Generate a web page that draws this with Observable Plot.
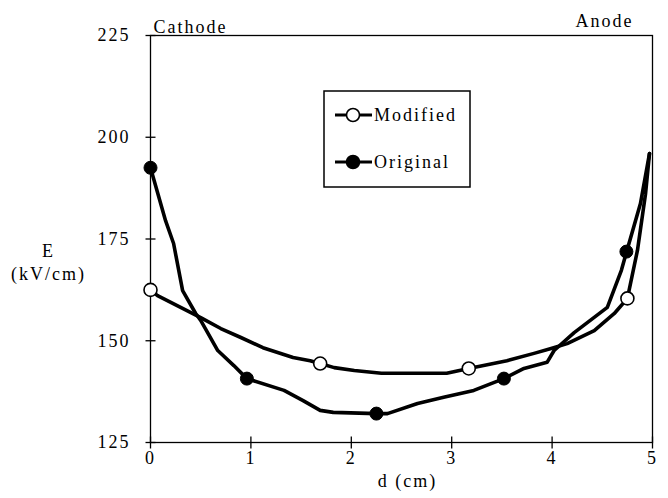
<!DOCTYPE html>
<html><head><meta charset="utf-8">
<script src="https://cdn.jsdelivr.net/npm/d3@7"></script>
<script src="https://cdn.jsdelivr.net/npm/@observablehq/plot@0.6"></script>
<style>
body{margin:0;background:#fff;}
#wrap{position:relative;width:668px;height:498px;font-family:"Liberation Serif","DejaVu Serif",serif;}
#wrap svg text{font-family:"Liberation Serif","DejaVu Serif",serif !important;}
#legend{position:absolute;left:323px;top:90px;}
</style></head><body><div id="wrap"></div>
<script>
// Data
const modifiedD = [0, 0.07, 0.3, 0.5, 0.7, 0.9, 1.12, 1.42, 1.59, 1.69, 1.83, 2.03, 2.3, 2.95, 3.17, 3.55, 3.82, 3.99, 4.15, 4.42, 4.62, 4.75, 4.85, 4.93, 4.97];
const modifiedE = [162.5, 161.1, 158.2, 155.7, 153, 150.8, 148.3, 145.9, 145.1, 144.4, 143.4, 142.7, 142, 142, 143.2, 145.1, 146.9, 148.1, 149.3, 152.5, 156.7, 160.4, 172.2, 186, 196];
const originalD = [0, 0.15, 0.23, 0.32, 0.45, 0.5, 0.67, 0.83, 0.96, 1.33, 1.52, 1.69, 1.82, 2.25, 2.36, 2.66, 2.92, 3.22, 3.52, 3.72, 3.95, 4.02, 4.22, 4.55, 4.69, 4.74, 4.88, 4.97];
const originalE = [192.5, 179.5, 173.9, 162.3, 156.7, 155, 147.6, 143.9, 140.7, 137.8, 135.3, 132.9, 132.4, 132.1, 132.1, 134.6, 136.1, 137.8, 140.7, 143.2, 144.7, 147.6, 152, 158.2, 167.3, 171.7, 183.7, 196];
const modifiedMarkD = [0, 1.69, 3.17, 4.75];
const modifiedMarkE = [162.5, 144.4, 143.2, 160.4];
const originalMarkD = [0, 0.96, 2.25, 3.52, 4.74];
const originalMarkE = [192.5, 140.7, 132.1, 140.7, 171.9];
const xTicks = [0, 1, 2, 3, 4, 5];
const yTicks = [125, 150, 175, 200, 225];
const seriesNames = ["Modified", "Original"];

const modified = modifiedD.map((d, i) => ({d, E: modifiedE[i]}));
const original = originalD.map((d, i) => ({d, E: originalE[i]}));
const modMarks = modifiedMarkD.map((d, i) => ({d, E: modifiedMarkE[i]}));
const origMarks = originalMarkD.map((d, i) => ({d, E: originalMarkE[i]}));

const tickV = {draw(ctx, size) { const h = Math.sqrt(size / Math.PI); ctx.moveTo(0, -h); ctx.lineTo(0, h); }};
const tickH = {draw(ctx, size) { const h = Math.sqrt(size / Math.PI); ctx.moveTo(-h, 0); ctx.lineTo(h, 0); }};

const chart = Plot.plot({
  width: 668, height: 498,
  marginLeft: 150, marginRight: 16, marginTop: 35, marginBottom: 56,
  style: {fontFamily: "Liberation Serif, DejaVu Serif, serif", fontSize: "18px", letterSpacing: "2px", background: "white", color: "#000"},
  x: {domain: [0, 5]},
  y: {domain: [125, 225]},
  marks: [
    Plot.frame({stroke: "#000", strokeWidth: 1.3}),
    Plot.axisX(xTicks, {tickSize: 0, tickPadding: 9, label: null}),
    Plot.axisY(yTicks, {tickSize: 0, tickPadding: 20, label: null}),
    Plot.dot(xTicks, {x: d => d, frameAnchor: "bottom", symbol: tickV, r: 6, stroke: "#000", strokeWidth: 1.3}),
    Plot.dot(yTicks, {y: d => d, frameAnchor: "left", symbol: tickH, r: 5, stroke: "#000", strokeWidth: 1.3}),
    Plot.line(modified, {x: "d", y: "E", stroke: "#000", strokeWidth: 3.6, strokeLinejoin: "round"}),
    Plot.line(original, {x: "d", y: "E", stroke: "#000", strokeWidth: 3.6, strokeLinejoin: "round"}),
    Plot.dot(modMarks, {x: "d", y: "E", r: 6.5, fill: "white", stroke: "#000", strokeWidth: 1.6}),
    Plot.dot(origMarks, {x: "d", y: "E", r: 6.5, fill: "#000", stroke: "#000", strokeWidth: 1}),
    Plot.text(["Cathode"], {text: d => d, frameAnchor: "top-left", dx: 40, dy: -15, textAnchor: "middle"}),
    Plot.text(["Anode"], {text: d => d, frameAnchor: "top-right", dx: -48, dy: -21, textAnchor: "middle"}),
    Plot.text(["E\n(kV/cm)"], {text: d => d, frameAnchor: "top-left", dx: -102, dy: 206, textAnchor: "middle", lineHeight: 1.25}),
    Plot.text(["d (cm)"], {text: d => d, frameAnchor: "bottom", dx: 6, dy: 44, textAnchor: "middle"})
  ]
});
const wrap = document.getElementById("wrap");
wrap.appendChild(chart);

// Legend overlay
const lg = d3.select(wrap).append("svg").attr("id", "legend").attr("width", 150).attr("height", 100)
  .style("font-size", "18px").style("letter-spacing", "2px");
lg.append("rect").attr("x", 1).attr("y", 1).attr("width", 146).attr("height", 96).attr("fill", "white").attr("stroke", "#000").attr("stroke-width", 1.5);
seriesNames.forEach((name, i) => {
  const y = 25 + i * 47;
  lg.append("line").attr("x1", 12).attr("x2", 49).attr("y1", y).attr("y2", y).attr("stroke", "#000").attr("stroke-width", 3);
  lg.append("circle").attr("cx", 30).attr("cy", y).attr("r", 6.5).attr("fill", i === 0 ? "white" : "#000").attr("stroke", "#000").attr("stroke-width", 1.6);
  lg.append("text").attr("x", 51).attr("y", y).attr("dy", "0.35em").text(name);
});
</script></body></html>
